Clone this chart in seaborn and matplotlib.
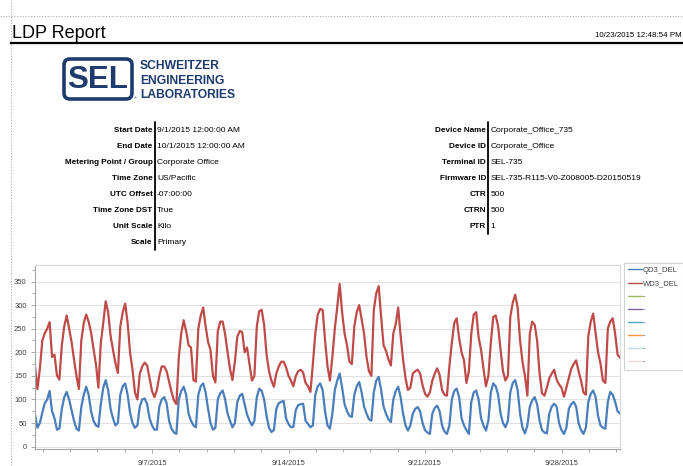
import matplotlib
matplotlib.use("Agg")
import numpy as np
import pandas as pd
import matplotlib.pyplot as plt
import matplotlib.dates as mdates
from matplotlib.lines import Line2D
from matplotlib.patches import FancyBboxPatch
from matplotlib.ticker import AutoMinorLocator, FixedLocator
import seaborn as sns

# ---------------- data ----------------
start_date = "2015-09-01"
sample_hours = [0, 3, 6, 9, 12, 15, 18, 21]

# WD3_DEL (red), one row per day 9/1 .. 9/30, values at sample_hours
wd3_del = [
    [170, 122, 165, 225, 240, 250, 264, 190],
    [195, 151, 142, 215, 255, 278, 250, 222],
    [185, 150, 122, 225, 262, 280, 265, 242],
    [207, 175, 125, 220, 262, 308, 285, 235],
    [205, 177, 156, 255, 285, 303, 262, 200],
    [163, 115, 100, 155, 170, 178, 172, 145],
    [118, 105, 120, 150, 170, 170, 160, 138],
    [116, 98, 90, 190, 240, 268, 245, 215],
    [210, 141, 138, 250, 278, 295, 255, 222],
    [205, 150, 136, 245, 265, 265, 238, 200],
    [165, 141, 180, 233, 245, 243, 200, 210],
    [175, 140, 150, 255, 287, 290, 258, 195],
    [160, 140, 127, 155, 170, 180, 180, 168],
    [150, 140, 128, 150, 160, 163, 157, 135],
    [128, 116, 175, 240, 280, 292, 290, 225],
    [170, 140, 190, 250, 296, 345, 285, 240],
    [215, 180, 175, 255, 285, 300, 270, 240],
    [190, 160, 150, 290, 325, 340, 275, 215],
    [203, 185, 172, 240, 260, 295, 235, 185],
    [145, 120, 125, 155, 160, 163, 155, 130],
    [112, 106, 115, 140, 155, 166, 152, 120],
    [110, 108, 170, 220, 262, 272, 230, 200],
    [183, 135, 160, 240, 280, 285, 232, 205],
    [165, 128, 150, 220, 275, 278, 255, 205],
    [160, 140, 150, 275, 305, 322, 295, 225],
    [180, 150, 108, 240, 265, 258, 225, 155],
    [113, 108, 125, 145, 155, 163, 142, 132],
    [125, 106, 125, 145, 165, 175, 183, 160],
    [140, 115, 110, 235, 265, 282, 240, 200],
    [176, 140, 135, 250, 265, 272, 240, 195],
]
wd3_del_end = 188

# QD3_DEL (blue)
qd3_del = [
    [68, 40, 50, 72, 92, 100, 118, 75],
    [60, 36, 38, 80, 105, 116, 100, 78],
    [55, 38, 34, 84, 110, 127, 110, 75],
    [55, 45, 42, 90, 125, 141, 120, 80],
    [60, 45, 50, 110, 128, 134, 110, 72],
    [50, 40, 45, 85, 100, 102, 90, 60],
    [45, 36, 36, 85, 100, 105, 92, 55],
    [38, 30, 27, 100, 118, 127, 110, 70],
    [55, 45, 41, 110, 128, 134, 115, 80],
    [50, 36, 40, 100, 113, 119, 100, 70],
    [55, 41, 50, 95, 108, 112, 90, 68],
    [55, 45, 55, 105, 123, 118, 100, 65],
    [40, 31, 35, 80, 92, 95, 97, 60],
    [48, 41, 42, 78, 88, 90, 91, 55],
    [48, 41, 45, 110, 128, 134, 120, 75],
    [45, 38, 70, 120, 140, 155, 125, 90],
    [75, 65, 63, 110, 128, 137, 115, 85],
    [70, 58, 55, 115, 140, 148, 120, 85],
    [70, 58, 52, 100, 118, 127, 105, 70],
    [45, 34, 45, 70, 80, 84, 75, 50],
    [35, 30, 27, 70, 82, 87, 75, 45],
    [32, 27, 45, 100, 118, 123, 105, 60],
    [45, 35, 27, 95, 115, 119, 100, 60],
    [45, 34, 55, 115, 134, 128, 110, 70],
    [50, 41, 55, 115, 135, 141, 120, 70],
    [40, 28, 45, 85, 98, 105, 90, 55],
    [35, 30, 28, 70, 85, 91, 85, 50],
    [35, 27, 40, 80, 90, 95, 85, 50],
    [35, 27, 40, 95, 112, 119, 105, 65],
    [45, 40, 38, 95, 116, 110, 95, 75],
]
qd3_del_end = 70

legend_labels = ["QD3_DEL", "WD3_DEL", "-", "-", "-", "-", "-", "-"]
legend_colors = ["#4a7ebb", "#be4b48", "#9bbb59", "#8064a2",
                 "#4bacc6", "#f79646", "#c6d9f1", "#f2dcdb"]

x_tick_dates = ["2015-09-07", "2015-09-14", "2015-09-21", "2015-09-28"]
x_tick_labels = ["9/7/2015", "9/14/2015", "9/21/2015", "9/28/2015"]
y_ticks = [0, 50, 100, 150, 200, 250, 300, 350]

left_labels = ["Start Date", "End Date", "Metering Point / Group", "Time Zone",
               "UTC Offset", "Time Zone DST", "Unit Scale", "Scale"]
left_values = ["9/1/2015 12:00:00 AM", "10/1/2015 12:00:00 AM", "Corporate Office",
               "US/Pacific", "-07:00:00", "True", "Kilo", "Primary"]
right_labels = ["Device Name", "Device ID", "Terminal ID", "Firmware ID",
                "CTR", "CTRN", "PTR"]
right_values = ["Corporate_Office_735", "Corporate_Office", "SEL-735",
                "SEL-735-R115-V0-Z008005-D20150519", "500", "500", "1"]

# ---------------- build table ----------------
t0 = pd.Timestamp(start_date)
rows = []
for name, daily, end in [("QD3_DEL", qd3_del, qd3_del_end), ("WD3_DEL", wd3_del, wd3_del_end)]:
    for d, vals in enumerate(daily):
        for h, v in zip(sample_hours, vals):
            rows.append((t0 + pd.Timedelta(days=d, hours=h), v, name))
    rows.append((t0 + pd.Timedelta(days=len(daily)), end, name))
df = pd.DataFrame(rows, columns=["time", "value", "series"])

# ---------------- figure ----------------
sns.set_theme(style="white")
plt.rcParams["font.family"] = ["Liberation Sans", "DejaVu Sans"]

W, H = 683, 466
fig = plt.figure(figsize=(W / 100, H / 100), dpi=100, facecolor="white")

ov = fig.add_axes([0, 0, 1, 1])
ov.set_xlim(0, W)
ov.set_ylim(H, 0)
ov.axis("off")

# page guides
ov.plot([0, W], [16, 16], color="#b0b0b0", lw=0.8, ls=(0, (1, 1.5)))
ov.plot([11, 11], [0, H], color="#b0b0b0", lw=0.8, ls=(0, (1, 1.5)))

# header
ov.text(12, 38, "LDP Report", fontsize=13, ha="left", va="baseline", color="black")
ov.text(682, 37, "10/23/2015 12:48:54 PM", fontsize=5.7, ha="right", va="baseline", color="black")
ov.plot([10, W], [42.5, 42.5], color="black", lw=1.6, solid_capstyle="butt")

# logo
navy = "#1d3b6c"
ov.add_patch(FancyBboxPatch((64, 59), 68, 40, boxstyle="round,pad=0,rounding_size=6",
                            fc="white", ec=navy, lw=2.6))
ov.text(98, 80.5, "SEL", fontsize=22.5, weight="bold", color=navy, ha="center", va="center")
ov.text(135, 98, "\u00ae", fontsize=3, color=navy, ha="center", va="center")
for i, word in enumerate(["SCHWEITZER", "ENGINEERING", "LABORATORIES"]):
    ov.text(140, 66 + 14.5 * i, word, fontsize=8.7, weight="bold", color=navy,
            ha="left", va="center")

# info tables
row_y = [130 + 16.1 * i for i in range(8)]
for lab, val, y in zip(left_labels, left_values, row_y):
    ov.text(152.5, y, lab, fontsize=5.9, weight="bold", ha="right", va="center", color="black")
    ov.text(157, y, val, fontsize=6.0, ha="left", va="center", color="black")
ov.plot([154.6, 154.6], [121.5, 250], color="black", lw=1.3)
for lab, val, y in zip(right_labels, right_values, row_y):
    ov.text(486, y, lab, fontsize=5.9, weight="bold", ha="right", va="center", color="black")
    ov.text(490.5, y, val, fontsize=6.0, ha="left", va="center", color="black")
ov.plot([488, 488], [121.5, 234], color="black", lw=1.3)

# chart
ax = fig.add_axes([35 / W, 1 - 449 / H, (620 - 35) / W, (449 - 265) / H])
sns.lineplot(data=df, x="time", y="value", hue="series",
             palette={"QD3_DEL": legend_colors[0], "WD3_DEL": legend_colors[1]},
             estimator=None, legend=False, lw=1.6, ax=ax)
ax.set_xlim(mdates.date2num(pd.Timestamp("2015-09-01")),
            mdates.date2num(pd.Timestamp("2015-10-01")))
ax.set_ylim(-5, 385)
ax.set_xlabel("")
ax.set_ylabel("")

major = [mdates.date2num(pd.Timestamp(d)) for d in x_tick_dates]
ax.xaxis.set_major_locator(FixedLocator(major))
ax.set_xticklabels(x_tick_labels)
minor_dates = pd.date_range(pd.Timestamp("2015-09-01 09:36"), pd.Timestamp("2015-10-01"),
                            freq=pd.Timedelta(hours=33.6))
ax.xaxis.set_minor_locator(FixedLocator([mdates.date2num(d) for d in minor_dates]))

ax.set_yticks(y_ticks)
ax.yaxis.set_minor_locator(AutoMinorLocator(2))
ax.grid(axis="y", which="major", color="#e2e2e2", lw=0.8)
ax.set_axisbelow(True)

tick_col = "#9a9a9a"
ax.tick_params(axis="both", which="major", direction="out", length=3, width=0.6,
               color=tick_col, labelsize=5.5, labelcolor="#404040")
ax.tick_params(axis="both", which="minor", direction="out", length=2, width=0.6, color=tick_col)
ax.tick_params(axis="x", which="major", pad=5)
ax.tick_params(axis="y", which="major", pad=3)
ax.tick_params(bottom=True, left=True, which="both")
for s in ["left", "bottom"]:
    ax.spines[s].set_color("#a6a6a6")
    ax.spines[s].set_linewidth(0.8)
for s in ["top", "right"]:
    ax.spines[s].set_color("#dadada")
    ax.spines[s].set_linewidth(0.8)

handles = [Line2D([], [], color=c, lw=1.0) for c in legend_colors]
leg = fig.legend(handles, legend_labels, loc="upper left",
                 bbox_to_anchor=(624 / W, 1 - 263 / H), frameon=True, fancybox=False,
                 fontsize=5.5, handlelength=1.8, handletextpad=0.2, labelspacing=0.75,
                 borderpad=0.5, borderaxespad=0)
leg.get_frame().set_edgecolor("#c8c8c8")
leg.get_frame().set_linewidth(0.8)
for t in leg.get_texts():
    t.set_color("#404040")

fig.savefig("out.png", dpi=100, facecolor="white")
